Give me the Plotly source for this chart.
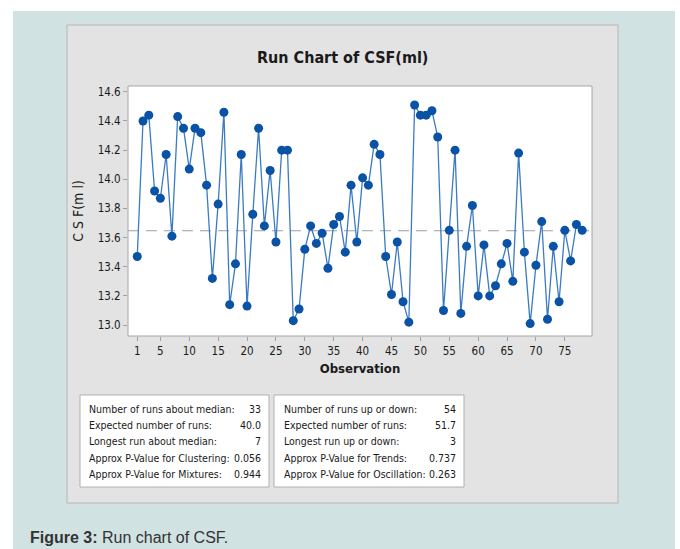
import plotly.graph_objects as go

# CSF(ml) readings, observation 1..78
observation = list(range(1, 79))
csf = [13.47, 14.40, 14.44, 13.92, 13.87, 14.17, 13.61, 14.43, 14.35, 14.07,
       14.35, 14.32, 13.96, 13.32, 13.83, 14.46, 13.14, 13.42, 14.17, 13.13,
       13.76, 14.35, 13.68, 14.06, 13.57, 14.20, 14.20, 13.03, 13.11, 13.52,
       13.68, 13.56, 13.63, 13.39, 13.69, 13.745, 13.50, 13.96, 13.57, 14.01,
       13.96, 14.24, 14.17, 13.47, 13.21, 13.57, 13.16, 13.02, 14.51, 14.44,
       14.44, 14.47, 14.29, 13.10, 13.65, 14.20, 13.08, 13.54, 13.82, 13.20,
       13.55, 13.20, 13.27, 13.42, 13.56, 13.30, 14.18, 13.50, 13.01, 13.41,
       13.71, 13.04, 13.54, 13.16, 13.65, 13.44, 13.69, 13.65]
median = 13.647

x_ticks = [1, 5, 10, 15, 20, 25, 30, 35, 40, 45, 50, 55, 60, 65, 70, 75]
y_ticks = [13.0, 13.2, 13.4, 13.6, 13.8, 14.0, 14.2, 14.4, 14.6]

left_labels = ["Number of runs about median:", "Expected number of runs:",
               "Longest run about median:", "Approx P-Value for Clustering:",
               "Approx P-Value for Mixtures:"]
left_values = ["33", "40.0", "7", "0.056", "0.944"]
right_labels = ["Number of runs up or down:", "Expected number of runs:",
                "Longest run up or down:", "Approx P-Value for Trends:",
                "Approx P-Value for Oscillation:"]
right_values = ["54", "51.7", "3", "0.737", "0.263"]

W, H = 680, 549
L, R, T, B = 128, 592, 86, 336   # plot area in pixels
FONT = "DejaVu Sans Condensed, Liberation Sans Narrow, Roboto, Arial, sans-serif"


def px(x):
    return (x - L) / (R - L)


def py(y):
    return (B - y) / (B - T)


fig = go.Figure()
fig.add_trace(go.Scatter(
    x=observation, y=csf, mode="lines+markers",
    line=dict(color="#3b7bc4", width=1.3),
    marker=dict(color="#0a52a6", size=9),
    showlegend=False, hoverinfo="x+y"))

shapes = [
    # teal page background
    dict(type="rect", xref="paper", yref="paper", x0=px(13), x1=px(675),
         y0=py(549), y1=py(11), fillcolor="#d1e2e2", line_width=0, layer="below"),
    # minitab gray panel
    dict(type="rect", xref="paper", yref="paper", x0=px(67), x1=px(618),
         y0=py(503), y1=py(25), fillcolor="#e3e3e3",
         line=dict(color="#b6b6b6", width=1), layer="below"),
    # plot area
    dict(type="rect", xref="paper", yref="paper", x0=0, x1=1, y0=0, y1=1,
         fillcolor="white", line=dict(color="#a6a6a6", width=1), layer="below"),
    # median line
    dict(type="line", xref="paper", yref="y", x0=0, x1=1, y0=median, y1=median,
         line=dict(color="#a0a0a0", width=1.2, dash="11px,7px"), layer="below"),
    # stats boxes
    dict(type="rect", xref="paper", yref="paper", x0=px(80), x1=px(269),
         y0=py(487), y1=py(395), fillcolor="white",
         line=dict(color="#b0b0b0", width=1), layer="below"),
    dict(type="rect", xref="paper", yref="paper", x0=px(274), x1=px(464),
         y0=py(487), y1=py(395), fillcolor="white",
         line=dict(color="#b0b0b0", width=1), layer="below"),
]

annotations = [
    dict(text="<b>Run Chart of CSF(ml)</b>", x=px(342), y=py(58), xref="paper", yref="paper",
         showarrow=False, font=dict(family=FONT, size=16, color="#1a1a1a"),
         xanchor="center", yanchor="middle"),
    dict(text="<b>Figure 3:</b> Run chart of CSF.", x=px(28), y=py(537),
         xref="paper", yref="paper", showarrow=False,
         font=dict(family="Liberation Sans, Arial, sans-serif", size=16, color="#333333"),
         xanchor="left", yanchor="middle"),
]

rows_y = [409, 425, 441, 458, 474]
for lab, val, ry in zip(left_labels, left_values, rows_y):
    annotations.append(dict(text=lab, x=px(87), y=py(ry), xref="paper", yref="paper",
                            showarrow=False, xanchor="left", yanchor="middle",
                            font=dict(family=FONT, size=10.5, color="#1a1a1a")))
    annotations.append(dict(text=val, x=px(263), y=py(ry), xref="paper", yref="paper",
                            showarrow=False, xanchor="right", yanchor="middle",
                            font=dict(family=FONT, size=10.5, color="#1a1a1a")))
for lab, val, ry in zip(right_labels, right_values, rows_y):
    annotations.append(dict(text=lab, x=px(282), y=py(ry), xref="paper", yref="paper",
                            showarrow=False, xanchor="left", yanchor="middle",
                            font=dict(family=FONT, size=10.5, color="#1a1a1a")))
    annotations.append(dict(text=val, x=px(458), y=py(ry), xref="paper", yref="paper",
                            showarrow=False, xanchor="right", yanchor="middle",
                            font=dict(family=FONT, size=10.5, color="#1a1a1a")))

fig.update_layout(
    width=W, height=H,
    margin=dict(l=L, r=W - R, t=T, b=H - B, pad=0),
    paper_bgcolor="white", plot_bgcolor="rgba(0,0,0,0)",
    font=dict(family=FONT, size=12, color="#1a1a1a"),
    shapes=shapes, annotations=annotations,
    xaxis=dict(range=[-0.6, 79.7], tickvals=x_ticks, ticks="outside", ticklen=4,
               tickcolor="#a0a0a0", showgrid=False, zeroline=False, showline=False,
               tickfont=dict(size=11.5),
               title=dict(text="<b>Observation</b>", font=dict(size=13), standoff=7)),
    yaxis=dict(range=[12.925, 14.64], tickvals=y_ticks, tickformat=".1f",
               ticks="outside", ticklen=4, tickcolor="#a0a0a0", showgrid=False,
               zeroline=False, showline=False, tickfont=dict(size=11.5),
               title=dict(text="C S F(m l)", font=dict(size=14), standoff=10)),
)

# drop the page's default body margin so the figure sits at the window corner
fig.write_html("out.html", config={"displayModeBar": False},
               post_script="document.body.style.margin='0';")
